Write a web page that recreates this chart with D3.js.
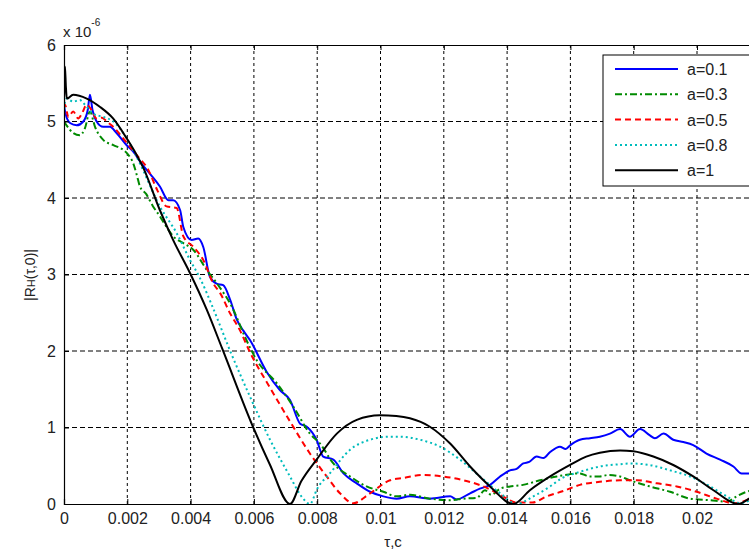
<!DOCTYPE html>
<html>
<head>
<meta charset="utf-8">
<script src="https://cdn.jsdelivr.net/npm/d3@7"></script>
<style>
  body { margin: 0; background: #fff; }
  svg { display: block; }
  text { font-family: "Liberation Sans", Arial, sans-serif; fill: #222; }
</style>
</head>
<body>
<svg id="chart" width="749" height="551"></svg>
<script>
// t in units of 1e-3 s, value in units of 1e-6
const a01 = [[0,5.2],[0.05,5.1],[0.19,4.98],[0.4,4.95],[0.61,5.0],[0.75,5.15],[0.82,5.35],[0.9,5.15],[1.03,5.0],[1.24,4.93],[1.45,4.93],[1.66,4.85],[1.98,4.69],[2.2,4.6],[2.45,4.45],[2.75,4.3],[3.03,4.15],[3.3,3.97],[3.45,3.97],[3.67,3.84],[3.77,3.62],[4.03,3.45],[4.24,3.47],[4.4,3.36],[4.61,2.97],[4.82,2.88],[5.03,2.86],[5.25,2.67],[5.46,2.41],[5.66,2.27],[5.88,2.14],[6.4,1.73],[6.82,1.49],[7.14,1.36],[7.46,1.05],[7.67,1.01],[7.98,0.84],[8.19,0.62],[8.51,0.58],[8.83,0.4],[9.25,0.27],[9.67,0.16],[10.09,0.1],[10.51,0.07],[10.93,0.1],[11.56,0.07],[12.2,0.1],[12.4,0.06],[12.83,0.14],[13.14,0.2],[13.46,0.25],[13.78,0.36],[14.09,0.44],[14.3,0.46],[14.51,0.53],[14.7,0.55],[14.93,0.62],[15.15,0.6],[15.36,0.68],[15.67,0.75],[15.85,0.72],[16.0,0.77],[16.3,0.84],[16.62,0.86],[16.93,0.88],[17.25,0.92],[17.57,0.98],[17.88,0.88],[18.2,0.98],[18.5,0.9],[18.67,0.86],[18.94,0.92],[19.25,0.84],[19.57,0.81],[19.88,0.77],[20.3,0.66],[20.73,0.58],[21.15,0.49],[21.41,0.4],[21.67,0.4],[22,0.4]];
const a03 = [[0,5.0],[0.08,4.95],[0.29,4.85],[0.5,4.82],[0.66,4.91],[0.82,5.13],[0.98,4.93],[1.24,4.76],[1.56,4.69],[1.87,4.63],[2.0,4.58],[2.19,4.45],[2.3,4.3],[2.4,4.15],[2.6,4.05],[2.8,3.9],[3.03,3.76],[3.24,3.62],[3.45,3.5],[3.77,3.41],[4.09,3.32],[4.51,3.06],[4.82,2.89],[5.35,2.54],[5.7,2.2],[6.09,1.88],[6.72,1.58],[7.25,1.27],[7.77,0.92],[8.09,0.79],[8.51,0.53],[9.04,0.36],[9.56,0.23],[10.09,0.16],[10.5,0.1],[10.93,0.12],[11.56,0.07],[12.2,0.05],[12.62,0.07],[13.04,0.08],[13.3,0.18],[13.5,0.12],[13.78,0.2],[14.09,0.23],[14.5,0.25],[15.04,0.31],[15.57,0.36],[16.3,0.4],[16.6,0.36],[16.93,0.36],[17.2,0.38],[17.57,0.36],[17.88,0.31],[18.5,0.23],[19.15,0.16],[19.78,0.07],[20.41,0.05],[20.94,0.03],[21.25,0.1],[21.57,0.16],[22,0.2]];
const a05 = [[0,5.05],[0.03,5.22],[0.14,5.06],[0.29,5.13],[0.45,5.04],[0.56,5.1],[0.72,5.22],[0.87,5.15],[1.03,5.04],[1.2,5.05],[1.35,5.0],[1.56,4.93],[1.87,4.78],[2.3,4.56],[2.66,4.37],[2.95,4.1],[3.24,3.89],[3.56,3.87],[3.77,3.5],[4.09,3.36],[4.4,3.19],[4.72,2.88],[4.93,2.76],[5.25,2.49],[5.56,2.27],[5.88,1.98],[6.51,1.52],[7.14,1.08],[7.77,0.66],[8.3,0.36],[8.72,0.14],[9.14,0.01],[9.67,0.14],[10.3,0.31],[10.72,0.34],[11.35,0.38],[11.98,0.36],[12.62,0.31],[13.25,0.23],[13.78,0.12],[14.3,0.02],[14.8,0.02],[15.25,0.1],[15.78,0.17],[16.3,0.25],[16.93,0.29],[17.57,0.31],[18.1,0.31],[18.73,0.27],[19.36,0.23],[19.99,0.16],[20.62,0.07],[21.15,0.01],[21.57,0.05],[22,0.15]];
const a08 = [[0,5.1],[0.03,5.26],[0.08,5.3],[0.29,5.26],[0.5,5.28],[0.66,5.22],[0.93,5.1],[1.24,5.06],[1.56,5.0],[1.98,4.78],[2.4,4.45],[3.03,3.89],[3.56,3.54],[3.98,3.19],[4.3,2.95],[4.72,2.55],[5.25,2.0],[5.88,1.4],[6.51,0.84],[7.14,0.36],[7.5,0.1],[7.77,0.0],[8.0,0.2],[8.4,0.4],[9.04,0.71],[9.67,0.84],[10.3,0.88],[10.6,0.88],[11.25,0.84],[11.88,0.75],[12.51,0.58],[13.14,0.36],[13.78,0.14],[14.3,0.0],[14.83,0.1],[15.36,0.23],[15.7,0.33],[16.3,0.42],[16.93,0.49],[17.57,0.52],[17.88,0.53],[18.5,0.51],[19.15,0.44],[19.78,0.36],[20.41,0.23],[20.94,0.1],[21.36,0.01],[21.7,0.05],[22,0.1]];
const a1 = [[0,5.2],[0.03,5.72],[0.06,5.45],[0.09,5.3],[0.29,5.35],[0.72,5.3],[1.14,5.19],[1.55,5.04],[1.98,4.78],[2.3,4.56],[2.5,4.4],[3.03,3.84],[3.45,3.45],[3.98,3.02],[4.51,2.54],[5.0,2.03],[5.98,1.0],[6.5,0.52],[7.14,0],[7.5,0.3],[7.98,0.58],[8.62,0.92],[9.25,1.1],[9.98,1.16],[10.5,1.15],[10.93,1.12],[11.56,1.01],[12.2,0.79],[12.83,0.49],[13.46,0.23],[14.2,0],[14.72,0.18],[15.36,0.36],[15.99,0.51],[16.5,0.62],[16.93,0.67],[17.57,0.7],[17.99,0.69],[18.62,0.62],[19.25,0.51],[19.88,0.36],[20.52,0.18],[21.3,0],[21.7,0.08],[22,0.12]];

const seriesNames = ["a=0.1", "a=0.3", "a=0.5", "a=0.8", "a=1"];
const xTicks = [0, 0.002, 0.004, 0.006, 0.008, 0.01, 0.012, 0.014, 0.016, 0.018, 0.02, 0.022];
const yTicks = [0, 1, 2, 3, 4, 5, 6];

const series = [
    { name: seriesNames[0], data: a01, color: "#0000ff", dash: null },
    { name: seriesNames[1], data: a03, color: "#008a00", dash: "7,3,2,3" },
    { name: seriesNames[2], data: a05, color: "#ff0000", dash: "6,4" },
    { name: seriesNames[3], data: a08, color: "#00bcbc", dash: "2,3" },
    { name: seriesNames[4], data: a1, color: "#000000", dash: null }
];

const plotLeft = 64, plotTop = 45, plotBottom = 504;
const plotRight = plotLeft + 11 * 63.3; // plot box runs past the picture edge

const svg = d3.select("#chart");

const x = d3.scaleLinear().domain([0, 0.022]).range([plotLeft, plotRight]);
const y = d3.scaleLinear().domain([0, 6]).range([plotBottom, plotTop]);

// grid
const grid = svg.append("g");
grid.selectAll(".vg")
    .data(xTicks.slice(1))
    .enter()
    .append("line")
    .attr("x1", d => x(d)).attr("x2", d => x(d))
    .attr("y1", plotTop).attr("y2", plotBottom)
    .attr("stroke", "#000").attr("stroke-width", 1)
    .attr("stroke-dasharray", "3,3");
grid.selectAll(".hg")
    .data(yTicks.slice(1, -1))
    .enter()
    .append("line")
    .attr("x1", plotLeft).attr("x2", plotRight)
    .attr("y1", d => y(d)).attr("y2", d => y(d))
    .attr("stroke", "#000").attr("stroke-width", 1)
    .attr("stroke-dasharray", "5,3");

// curves
svg.append("clipPath").attr("id", "clip")
    .append("rect")
    .attr("x", plotLeft).attr("y", plotTop - 2)
    .attr("width", plotRight - plotLeft).attr("height", plotBottom - plotTop + 2);

const line = d3.line()
    .x(d => x(d[0] * 1e-3))
    .y(d => y(d[1]))
    .curve(d3.curveMonotoneX);

svg.append("g")
    .attr("clip-path", "url(#clip)")
    .selectAll("path")
    .data(series)
    .enter()
    .append("path")
    .attr("d", d => line(d.data))
    .attr("fill", "none")
    .attr("stroke", d => d.color)
    .attr("stroke-width", 2)
    .attr("stroke-dasharray", d => d.dash);

// axes box
const xAxisB = d3.axisBottom(x).tickValues(xTicks).tickSize(-5).tickPadding(9)
    .tickFormat(d => d > 0.0201 ? "" : d3.format("~g")(d));
const xAxisT = d3.axisTop(x).tickValues(xTicks).tickSize(-5).tickFormat("");
const yAxisL = d3.axisLeft(y).tickValues(yTicks).tickSize(-5).tickPadding(8)
    .tickFormat(d3.format("d"));

svg.append("g").attr("transform", `translate(0,${plotBottom})`).call(xAxisB);
svg.append("g").attr("transform", `translate(0,${plotTop})`).call(xAxisT);
svg.append("g").attr("transform", `translate(${plotLeft},0)`).call(yAxisL);

svg.selectAll(".domain").attr("stroke", "#000").attr("stroke-width", 1.2);
svg.selectAll(".tick line").attr("stroke", "#000");
svg.selectAll(".tick text")
    .style("font-family", "Liberation Sans, Arial, sans-serif")
    .style("font-size", "16px")
    .attr("fill", "#222");

// exponent
const ex = svg.append("text").attr("x", 63).attr("y", 37).style("font-size", "15px");
ex.append("tspan").text("x 10");
ex.append("tspan").attr("dy", -11).style("font-size", "10px").text("-6");

// axis labels
svg.append("text")
    .attr("x", 393).attr("y", 547)
    .attr("text-anchor", "middle")
    .style("font-size", "15px")
    .text("τ,c");

const yl = svg.append("text")
    .attr("transform", "translate(35,275) rotate(-90)")
    .attr("text-anchor", "middle")
    .style("font-size", "14px");
yl.append("tspan").text("|R");
yl.append("tspan").style("font-size", "11px").text("H");
yl.append("tspan").text("(τ,0)|");

// legend
const lg = svg.append("g");
lg.append("rect")
    .attr("x", 603).attr("y", 55)
    .attr("width", 170).attr("height", 131)
    .attr("fill", "#fff").attr("stroke", "#000").attr("stroke-width", 1);

const rows = lg.selectAll(".row")
    .data(series)
    .enter()
    .append("g")
    .attr("transform", (d, i) => `translate(0,${69 + i * 25.3})`);
rows.append("line")
    .attr("x1", 615).attr("x2", 678)
    .attr("stroke", d => d.color)
    .attr("stroke-width", 2)
    .attr("stroke-dasharray", d => d.dash);
rows.append("text")
    .attr("x", 687).attr("y", 6)
    .style("font-size", "16px")
    .text(d => d.name);
</script>
</body>
</html>
